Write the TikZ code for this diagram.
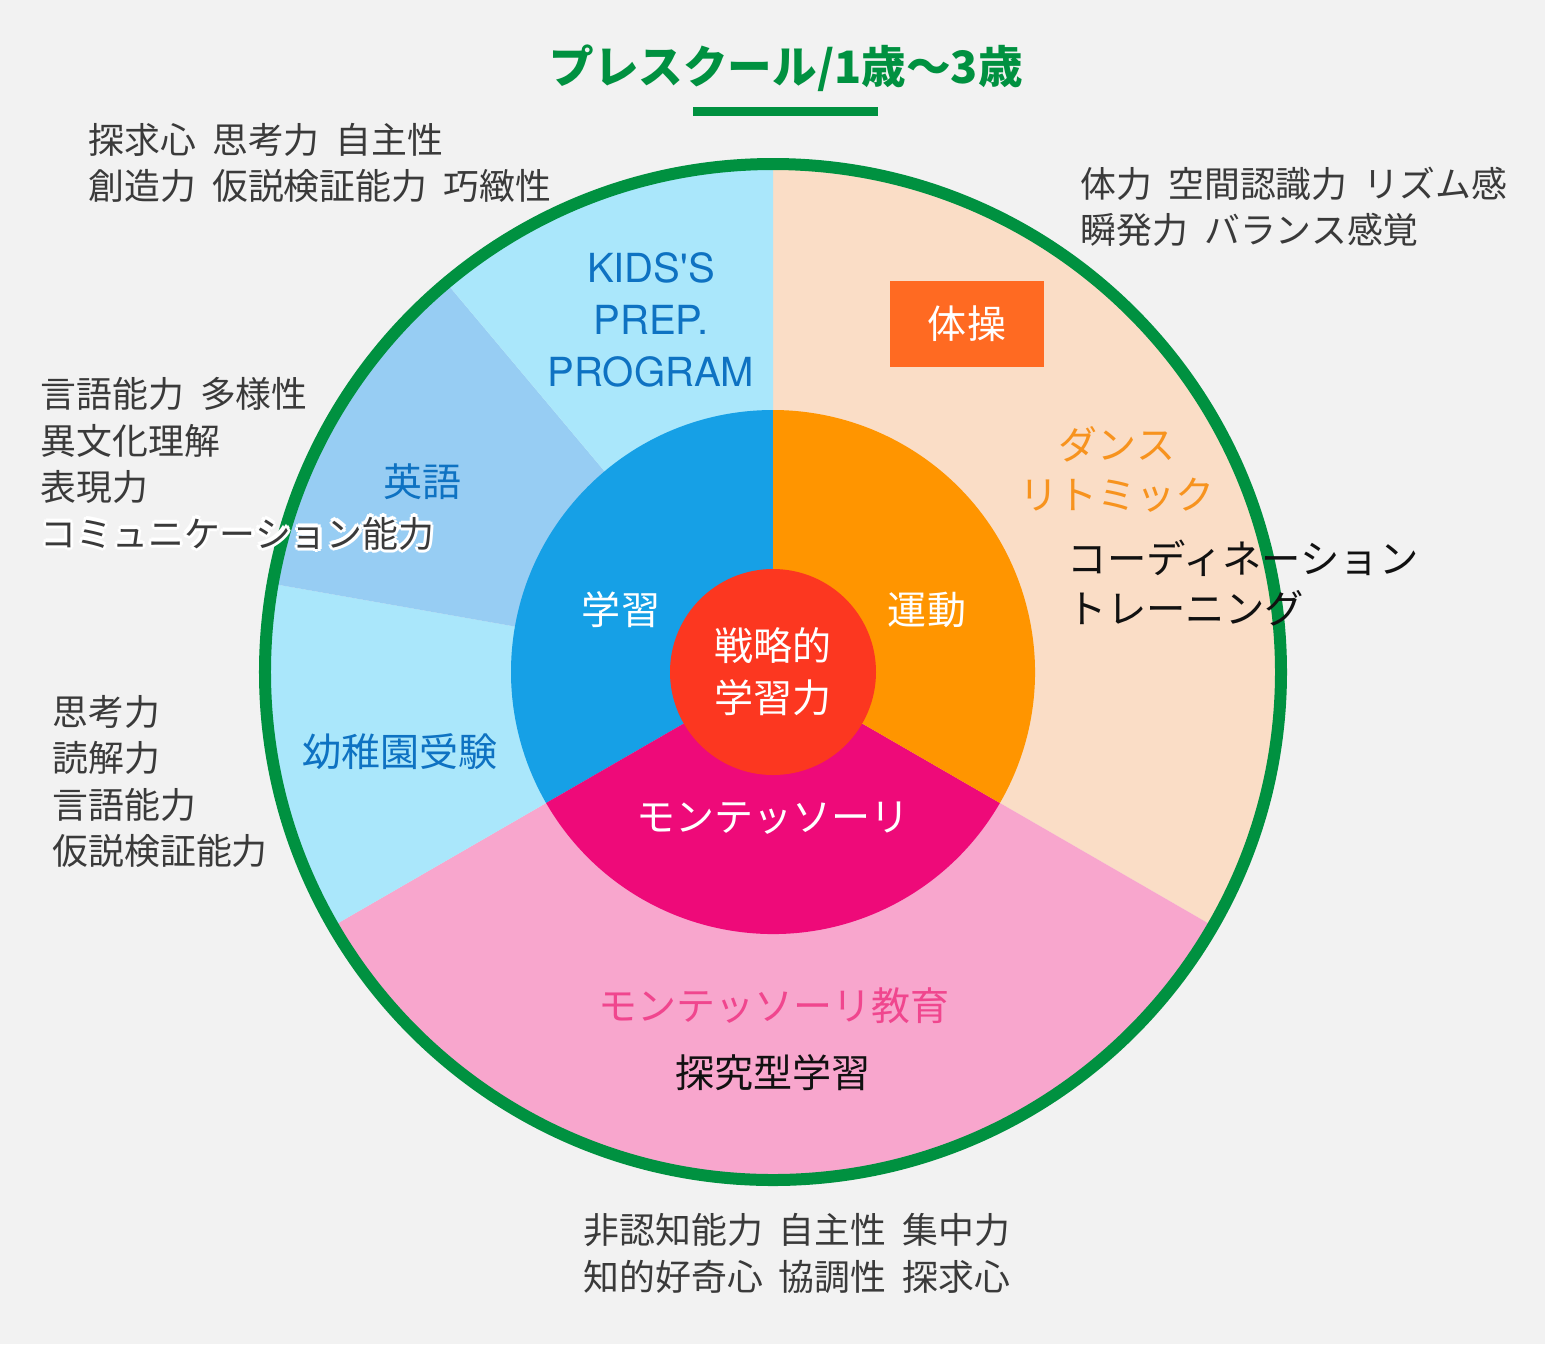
\documentclass[tikz,border=0pt]{standalone}
\usepackage{fontspec}
\setmainfont{Noto Sans CJK JP}[WordSpace=2]
\newfontfamily\latinfont{TeX Gyre Heros}
\usetikzlibrary{positioning}
\definecolor{cBack}{HTML}{F2F2F2}
\definecolor{cRing}{HTML}{009140}
\definecolor{cCyan}{HTML}{AAE7FB}
\definecolor{cSky}{HTML}{97CDF3}
\definecolor{cBeige}{HTML}{FADDC6}
\definecolor{cPink}{HTML}{F8A6CD}
\definecolor{cStudy}{HTML}{16A0E6}
\definecolor{cMove}{HTML}{FF9500}
\definecolor{cMonte}{HTML}{EE0A79}
\definecolor{cCore}{HTML}{FC3720}
\definecolor{cGym}{HTML}{FF6A22}
\definecolor{tBlue}{HTML}{0E72C2}
\definecolor{tOrange}{HTML}{F7931E}
\definecolor{tPink}{HTML}{F0468E}
\definecolor{tGray}{HTML}{3A3A3A}
\definecolor{tDark}{HTML}{111111}

\newcommand\halotext[1]{\leavevmode%
  \foreach \hdir in {0,45,...,315}{%
    \pgfmathsetlengthmacro\hdx{0.9pt*cos(\hdir)}%
    \pgfmathsetlengthmacro\hdy{0.9pt*sin(\hdir)}%
    \rlap{\hspace*{\hdx}\raisebox{\hdy}{\color{white}#1}}}%
  #1}

\begin{document}
\begin{tikzpicture}[
    outer/.style={
        font=\fontsize{10.2pt}{13.2pt}\selectfont,
        text=tGray,
        align=left,
        anchor=west,
        inner sep=0pt
    },
    inlabel/.style={
        font=\fontsize{11.1pt}{14.8pt}\selectfont,
        align=center,
        inner sep=0pt
    }
]

\fill[cBack] (-7.73,-6.72) rectangle (7.72,6.72);
\useasboundingbox (-7.73,-6.72) rectangle (7.72,6.72);

\fill[cBeige] (0,0) -- (90:5.08) arc[start angle=90, end angle=-30, radius=5.08] -- cycle;
\fill[cPink] (0,0) -- (-30:5.08) arc[start angle=-30, end angle=-150, radius=5.08] -- cycle;
\fill[cCyan] (0,0) -- (210:5.08) arc[start angle=210, end angle=170, radius=5.08] -- cycle;
\fill[cSky] (0,0) -- (170:5.08) arc[start angle=170, end angle=130, radius=5.08] -- cycle;
\fill[cCyan] (0,0) -- (130:5.08) arc[start angle=130, end angle=90, radius=5.08] -- cycle;

\fill[cStudy] (0,0) -- (90:2.62) arc[start angle=90, end angle=210, radius=2.62] -- cycle;
\fill[cMonte] (0,0) -- (210:2.62) arc[start angle=210, end angle=330, radius=2.62] -- cycle;
\fill[cMove] (0,0) -- (-30:2.62) arc[start angle=-30, end angle=90, radius=2.62] -- cycle;

\draw[cRing, line width=0.12cm] (0,0) circle[radius=5.08];

\node[circle, fill=cCore, minimum size=2.06cm, text=white, inlabel] (core) at (0,0) {戦略的\\学習力};

\node[font=\fontsize{12.7pt}{15pt}\selectfont\bfseries, text=cRing] (title) at (0.13, 6.04) {プレスクール/1歳〜3歳};
\fill[cRing] (-0.80, 5.655) rectangle (1.05, 5.565);

\node[inlabel, text=white] (study) at (-1.52, 0.62) {学習};
\node[inlabel, text=white] (move) at (1.54, 0.62) {運動};
\node[inlabel, text=white] (monte) at (0, -1.46) {モンテッソーリ};

\node[inlabel, text=tBlue, font=\latinfont\fontsize{11.4pt}{14.8pt}\selectfont] (kids) at (-1.22, 3.52) {KIDS'S\\PREP.\\PROGRAM};
\node[inlabel, text=tBlue] (english) at (-3.50, 1.90) {英語};
\node[inlabel, text=tBlue] (exam) at (-3.73, -0.80) {幼稚園受験};

\node[fill=cGym, minimum width=1.54cm, minimum height=0.86cm, text=white, inlabel] (gym) at (1.94, 3.48) {体操};
\node[inlabel, text=tOrange, font=\fontsize{11.1pt}{14.2pt}\selectfont] (dance) at (3.44, 2.03) {ダンス\\リトミック};
\node[inlabel, text=tDark, align=left, anchor=west, font=\fontsize{11.2pt}{14.2pt}\selectfont] (coord) at (2.94, 0.89) {コーディネーション\\トレーニング};

\node[inlabel, text=tPink] (montessori) at (0.01, -3.34) {モンテッソーリ教育};
\node[inlabel, text=tDark] (inquiry) at (0, -4.01) {探究型学習};

\node[outer] (skillsKids) at (-6.85, 5.09) {探求心 思考力 自主性\\創造力 仮説検証能力 巧緻性};
\node[outer] (skillsGym) at (3.07, 4.65) {体力 空間認識力 リズム感\\瞬発力 バランス感覚};
\node[outer] (skillsEnglish) at (-7.33, 2.065) {言語能力 多様性\\異文化理解\\表現力\\\halotext{コミュニケーション能力}};
\node[outer] (skillsExam) at (-7.21, -1.095) {思考力\\読解力\\言語能力\\仮説検証能力};
\node[outer] (skillsMonte) at (-1.90, -5.815) {非認知能力 自主性 集中力\\知的好奇心 協調性 探求心};

\end{tikzpicture}
\end{document}
